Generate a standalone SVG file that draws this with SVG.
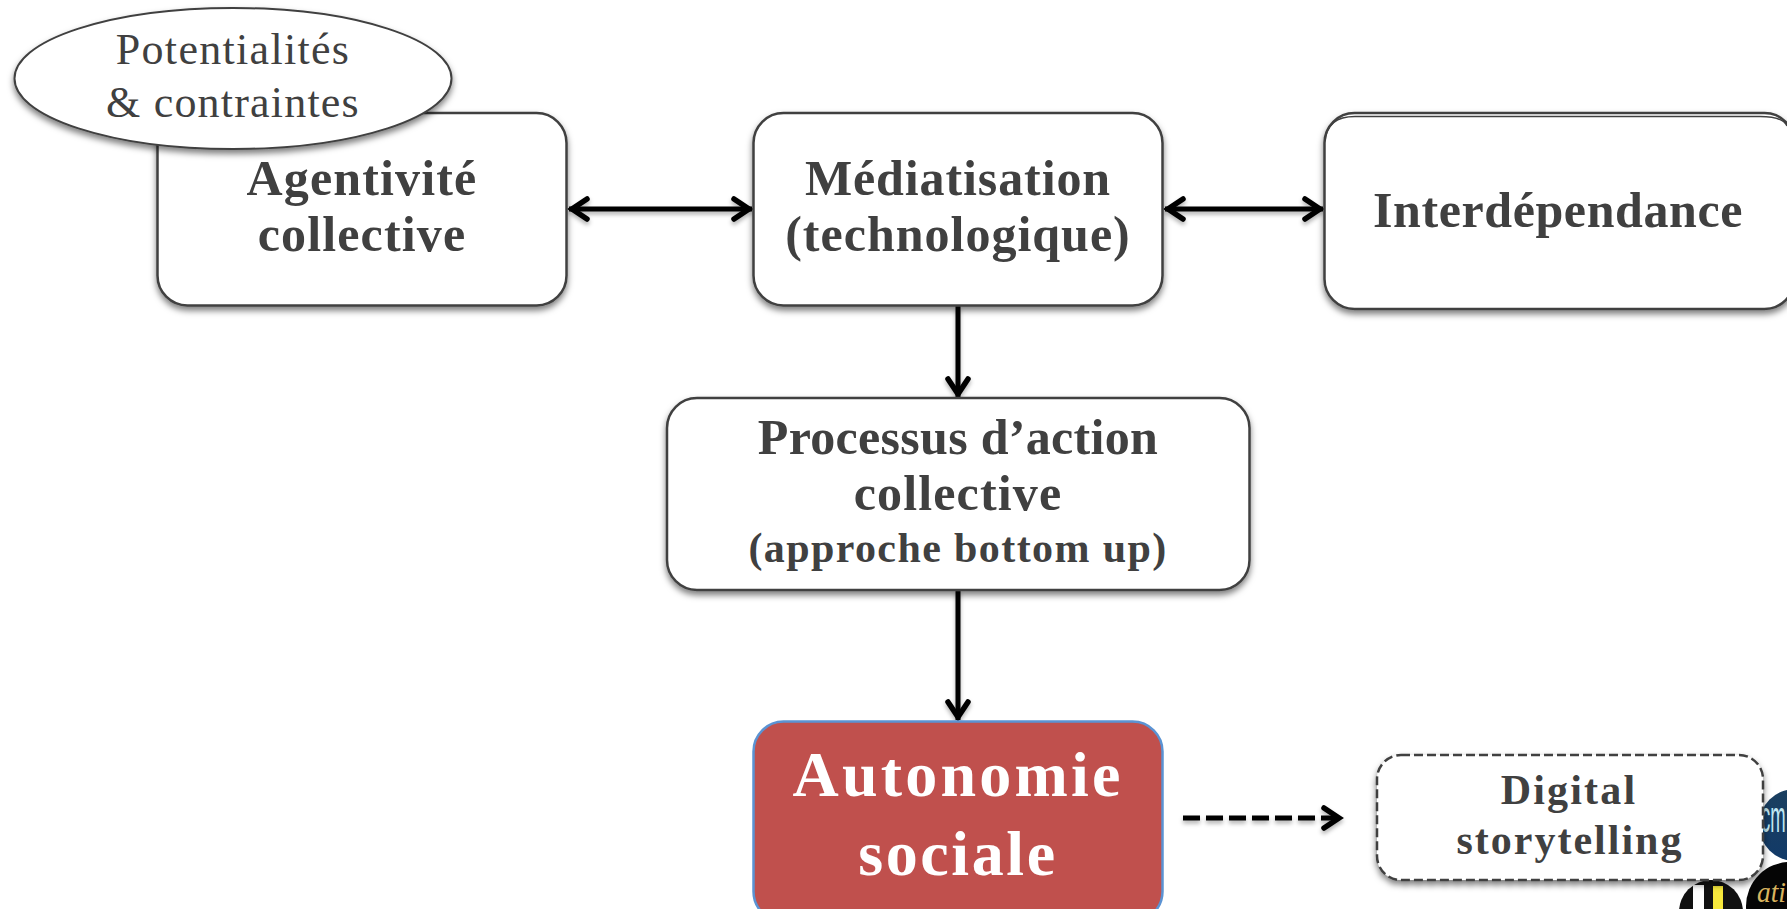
<svg xmlns="http://www.w3.org/2000/svg" width="1787" height="909" viewBox="0 0 1787 909">
<style>
text{font-family:"Liberation Serif","DejaVu Serif",serif;text-anchor:middle;fill:#404040}
.b{font-weight:700;font-size:50px}
.s{font-weight:700;font-size:42px}
.a{font-weight:700;font-size:64px;fill:#fff}
.p{font-size:44px}
.box{fill:#fff;stroke:#404040;stroke-width:2.500;filter:url(#sh)}
.c{fill:none;stroke:#000;stroke-width:5}
.h{fill:none;stroke:#000;stroke-width:5.500;stroke-linecap:round;stroke-linejoin:miter}
</style>
<defs>
<filter id="sh" x="-10%" y="-10%" width="120%" height="125%"><feDropShadow dx="0" dy="4" stdDeviation="3" flood-color="#000" flood-opacity=".5"/></filter>
<filter id="shc" filterUnits="userSpaceOnUse" x="0" y="0" width="1787" height="909"><feDropShadow dx="0" dy="3" stdDeviation="2" flood-color="#000" flood-opacity=".3"/></filter>
<marker id="end" viewBox="0 0 26 28" refX="24" refY="14" markerWidth="26" markerHeight="28" markerUnits="userSpaceOnUse" orient="auto-start-reverse"><path d="M6 4L21 14L6 24" class="h"/></marker>
<linearGradient id="cmg" x1="0" y1="0" x2="0" y2="1"><stop offset="0" stop-color="#1a3f5f"/><stop offset="1" stop-color="#123a68"/></linearGradient>
</defs>
<rect width="1787" height="909" fill="#fff"/>
<g id="logos">
<circle cx="1795" cy="825" r="36" fill="url(#cmg)"/>
<text transform="translate(1761,832) scale(.42,1)" style="font-family:'Liberation Sans',sans-serif;font-size:44px;fill:#bfe6f2;text-anchor:start">cm</text>
<circle cx="1790" cy="906" r="44" fill="#050505"/>
<text x="1757" y="902" textLength="29" lengthAdjust="spacingAndGlyphs" style="font-style:italic;font-size:30px;fill:#d9b45f;text-anchor:start">ati</text>
<circle cx="1711" cy="912" r="32" fill="#111"/>
<rect x="1693" y="885" width="11" height="24" fill="#fff"/>
<rect x="1713" y="886" width="10" height="23" fill="#f7e83c"/>
</g>
<g id="connectors" filter="url(#shc)">
<line class="c" x1="569" y1="209" x2="752" y2="209" marker-start="url(#end)" marker-end="url(#end)"/>
<line class="c" x1="1165" y1="209" x2="1323" y2="209" marker-start="url(#end)" marker-end="url(#end)"/>
<line class="c" x1="958" y1="306" x2="958" y2="397" marker-end="url(#end)"/>
<line class="c" x1="958" y1="590" x2="958" y2="720" marker-end="url(#end)"/>
<line class="c" x1="1183" y1="818" x2="1342" y2="818" stroke-dasharray="17 6" marker-end="url(#end)"/>
</g>
<g id="agentivite">
<rect class="box" x="157.500" y="113" width="409" height="192.500" rx="30"/>
<text class="b" x="362" y="195" letter-spacing="1.150">Agentivité</text>
<text class="b" x="362" y="251" letter-spacing="1.150">collective</text>
</g>
<g id="potentialites">
<ellipse cx="233" cy="78.500" rx="218.500" ry="70.500" fill="#fff" stroke="#404040" stroke-width="2" filter="url(#sh)"/>
<text class="p" x="233" y="64" letter-spacing="1.300">Potentialités</text>
<text class="p" x="233" y="117" letter-spacing="1.200">&amp; contraintes</text>
</g>
<g id="mediatisation">
<rect class="box" x="753.500" y="113" width="409" height="192.500" rx="30"/>
<text class="b" x="958" y="195" letter-spacing="0.900">Médiatisation</text>
<text class="b" x="958" y="251" letter-spacing="1">(technologique)</text>
</g>
<g id="interdependance">
<rect class="box" x="1324.500" y="113" width="470" height="196" rx="30"/>
<path d="M1325 141Q1327 116.500 1355 116.500H1760Q1783 116.500 1787 126" fill="none" stroke="#404040" stroke-width="1.500"/>
<text class="b" x="1558" y="227" letter-spacing="0.600">Interdépendance</text>
</g>
<g id="processus">
<rect class="box" x="667" y="398" width="582.500" height="192" rx="30"/>
<text class="b" x="958" y="454" letter-spacing="0.300">Processus d’action</text>
<text class="b" x="958" y="510" letter-spacing="1.150">collective</text>
<text class="s" x="958" y="562" letter-spacing="1.400">(approche bottom up)</text>
</g>
<g id="autonomie">
<rect x="753.500" y="721.500" width="409" height="200" rx="30" fill="#c0504d" stroke="#5b93d3" stroke-width="2.500"/>
<text class="a" x="958" y="796" letter-spacing="3.200">Autonomie</text>
<text class="a" x="958" y="875" letter-spacing="2.600">sociale</text>
</g>
<g id="digital">
<rect class="box" x="1377" y="755" width="386" height="125" rx="24" stroke-dasharray="9 4"/>
<text class="s" x="1569" y="804" letter-spacing="2.200">Digital</text>
<text class="s" x="1570" y="854" letter-spacing="2">storytelling</text>
</g>
</svg>
